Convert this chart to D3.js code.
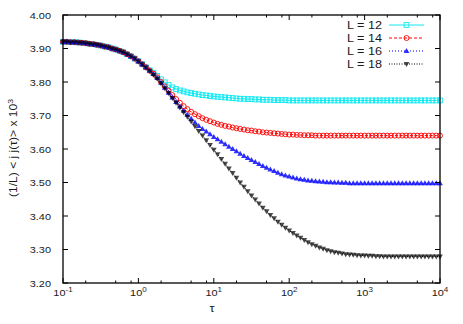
<!DOCTYPE html>
<html lang="en">
<head>
<meta charset="utf-8">
<title>Current vs tau</title>
<script src="https://cdn.jsdelivr.net/npm/d3@7"></script>
<style>
  body { margin: 0; background: #fff; }
  svg text { font-family: "Liberation Sans", Arial, Helvetica, sans-serif; fill: #1a1a1a; }
</style>
</head>
<body>
<script>
// log10(tau) from -1 to 4 in steps of 0.05 (101 samples per curve)
var tauExp = d3.range(0, 101).map(function(i){ return -1 + i * 0.05; });

// readings of (1/L) <j j(tau)> x 10^3 for each L, one row per half decade
var L12 = [
  3.920,3.920,3.919,3.919,3.918,3.917,3.916,3.914,3.913,3.911,
  3.909,3.906,3.904,3.900,3.897,3.893,3.889,3.883,3.877,3.870,
  3.862,3.853,3.844,3.835,3.827,3.818,3.808,3.799,3.791,3.784,
  3.779,3.775,3.772,3.769,3.767,3.765,3.763,3.761,3.760,3.758,
  3.757,3.756,3.755,3.754,3.753,3.752,3.751,3.750,3.750,3.749,
  3.749,3.748,3.748,3.747,3.747,3.747,3.746,3.746,3.746,3.746,
  3.745,3.745,3.745,3.745,3.745,3.745,3.745,3.745,3.745,3.745,
  3.745,3.745,3.745,3.745,3.745,3.745,3.745,3.745,3.745,3.745,
  3.745,3.745,3.745,3.745,3.745,3.745,3.745,3.745,3.745,3.745,
  3.745,3.745,3.745,3.745,3.745,3.745,3.745,3.745,3.745,3.745,
  3.745
];
var L14 = [
  3.920,3.920,3.919,3.919,3.918,3.917,3.916,3.914,3.913,3.911,
  3.909,3.906,3.904,3.900,3.897,3.893,3.889,3.883,3.877,3.870,
  3.862,3.853,3.844,3.834,3.825,3.814,3.800,3.787,3.774,3.761,
  3.749,3.738,3.728,3.719,3.711,3.704,3.698,3.692,3.687,3.683,
  3.679,3.675,3.672,3.669,3.667,3.664,3.662,3.660,3.658,3.656,
  3.655,3.653,3.652,3.650,3.649,3.648,3.647,3.646,3.645,3.644,
  3.643,3.643,3.642,3.642,3.641,3.641,3.641,3.640,3.640,3.640,
  3.640,3.640,3.640,3.640,3.640,3.640,3.640,3.640,3.640,3.640,
  3.640,3.640,3.640,3.640,3.640,3.640,3.640,3.640,3.640,3.640,
  3.640,3.640,3.640,3.640,3.640,3.640,3.640,3.640,3.640,3.640,
  3.640
];
var L16 = [
  3.920,3.920,3.919,3.919,3.918,3.917,3.916,3.914,3.913,3.911,
  3.909,3.906,3.904,3.900,3.897,3.893,3.889,3.883,3.877,3.870,
  3.862,3.853,3.844,3.834,3.824,3.812,3.798,3.783,3.768,3.754,
  3.740,3.727,3.714,3.702,3.690,3.679,3.669,3.660,3.652,3.644,
  3.636,3.629,3.622,3.614,3.607,3.600,3.593,3.586,3.579,3.573,
  3.567,3.561,3.555,3.549,3.544,3.539,3.534,3.529,3.525,3.521,
  3.518,3.515,3.512,3.510,3.508,3.506,3.505,3.504,3.503,3.502,
  3.501,3.501,3.500,3.500,3.499,3.499,3.498,3.498,3.498,3.498,
  3.498,3.498,3.498,3.498,3.498,3.498,3.498,3.498,3.498,3.498,
  3.498,3.498,3.498,3.498,3.498,3.498,3.498,3.498,3.498,3.498,
  3.498
];
var L18 = [
  3.920,3.920,3.919,3.919,3.918,3.917,3.916,3.914,3.913,3.911,
  3.909,3.906,3.904,3.900,3.897,3.893,3.889,3.883,3.877,3.870,
  3.862,3.853,3.843,3.833,3.822,3.810,3.796,3.781,3.767,3.752,
  3.738,3.724,3.710,3.696,3.682,3.668,3.654,3.640,3.626,3.612,
  3.598,3.584,3.570,3.556,3.542,3.528,3.514,3.500,3.487,3.474,
  3.461,3.449,3.437,3.425,3.414,3.403,3.393,3.383,3.374,3.365,
  3.357,3.349,3.342,3.335,3.328,3.322,3.316,3.311,3.306,3.302,
  3.298,3.295,3.292,3.290,3.288,3.286,3.285,3.284,3.283,3.282,
  3.282,3.281,3.281,3.280,3.280,3.279,3.279,3.279,3.279,3.279,
  3.279,3.279,3.279,3.279,3.279,3.279,3.279,3.279,3.279,3.279,
  3.279
];

var seriesNames = ["L = 12", "L = 14", "L = 16", "L = 18"];
var yTicks = [3.2, 3.3, 3.4, 3.5, 3.6, 3.7, 3.8, 3.9, 4.0];
var xTickExps = [-1, 0, 1, 2, 3, 4];

var w = 463, h = 324;
var padL = 63, padR = 440, padT = 15, padB = 283;
var sx = 1.15; // glyphs in the reference are a little wide

var svg = d3.select("body").append("svg")
  .attr("width", w).attr("height", h);

var xScale = d3.scaleLog().domain([0.1, 1e4]).range([padL, padR]);
var yScale = d3.scaleLinear().domain([3.2, 4.0]).range([padB, padT]);

//styles per curve
var styles = [
  {color: "#10e8f0", dash: null, marker: "square"},
  {color: "#ff0000", dash: "3,2", marker: "circle"},
  {color: "#0000ff", dash: "1,2", marker: "tri"},
  {color: "#000000", dash: "1,1.5", marker: "trid"}
];
var allSeries = [L12, L14, L16, L18];

function drawMarker(g, kind, color, x, y) {
  if (kind == "square") {
    g.append("rect").attr("x", x - 2.4).attr("y", y - 2.4)
      .attr("width", 4.8).attr("height", 4.8)
      .attr("fill", "none").attr("stroke", color).attr("stroke-width", 0.9);
  } else if (kind == "circle") {
    g.append("circle").attr("cx", x).attr("cy", y).attr("r", 2.5)
      .attr("fill", "none").attr("stroke", color).attr("stroke-width", 0.9);
  } else if (kind == "tri") {
    g.append("path").attr("d", "M" + x + "," + (y - 3) + "L" + (x + 2.9) + "," + (y + 2) + "L" + (x - 2.9) + "," + (y + 2) + "Z")
      .attr("fill", color).attr("fill-opacity", 0.8);
  } else {
    g.append("path").attr("d", "M" + x + "," + (y + 3) + "L" + (x + 2.9) + "," + (y - 2) + "L" + (x - 2.9) + "," + (y - 2) + "Z")
      .attr("fill", color).attr("fill-opacity", 0.7);
  }
}

function addText(x, y, str, size, anchor) {
  return svg.append("text")
    .attr("transform", "translate(" + x + "," + y + ") scale(" + sx + ",1)")
    .attr("text-anchor", anchor)
    .style("font-size", size + "px")
    .text(str);
}

//Curves
var plot = svg.append("g");
allSeries.forEach(function(vals, s) {
  var st = styles[s];
  var pts = vals.map(function(v, i){ return [Math.pow(10, tauExp[i]), v]; });
  var line = d3.line().x(function(d){ return xScale(d[0]); }).y(function(d){ return yScale(d[1]); });
  plot.append("path").datum(pts)
    .attr("d", line).attr("fill", "none")
    .attr("stroke", st.color).attr("stroke-width", 1)
    .attr("stroke-dasharray", st.dash);
  var mg = plot.append("g");
  pts.forEach(function(d){
    drawMarker(mg, st.marker, st.color, xScale(d[0]), yScale(d[1]));
  });
});

//Ticks, mirrored on all four sides
var ax = svg.append("g").attr("stroke", "#000").attr("stroke-width", 1);
yTicks.forEach(function(v){
  var y = yScale(v);
  ax.append("line").attr("x1", padL).attr("x2", padL + 5).attr("y1", y).attr("y2", y);
  ax.append("line").attr("x1", padR).attr("x2", padR - 5).attr("y1", y).attr("y2", y);
  addText(51, y + 3.5, v.toFixed(2), 9.5, "end");
});
xTickExps.forEach(function(e, k){
  var x = xScale(Math.pow(10, e));
  ax.append("line").attr("x1", x).attr("x2", x).attr("y1", padB).attr("y2", padB - 5);
  ax.append("line").attr("x1", x).attr("x2", x).attr("y1", padT).attr("y2", padT + 5);
  var t = addText(x, 296, "", 9.5, "middle");
  t.append("tspan").text("10");
  t.append("tspan").attr("dy", -4.5).style("font-size", "7px").text(e);
  if (k < xTickExps.length - 1) {
    [2, 5, 8].forEach(function(m){
      var xm = xScale(m * Math.pow(10, e));
      ax.append("line").attr("x1", xm).attr("x2", xm).attr("y1", padB).attr("y2", padB - 2.5);
      ax.append("line").attr("x1", xm).attr("x2", xm).attr("y1", padT).attr("y2", padT + 2.5);
    });
  }
});

//Frame
svg.append("rect")
  .attr("x", padL).attr("y", padT)
  .attr("width", padR - padL).attr("height", padB - padT)
  .attr("fill", "none").attr("stroke", "#000").attr("stroke-width", 1.3);

//Axis titles
addText(212, 312, "\u03c4", 11, "middle");
var yl = svg.append("text")
  .attr("transform", "translate(17,148) rotate(-90) scale(1.15,1)")
  .attr("text-anchor", "middle")
  .style("font-size", "10.5px");
yl.append("tspan").text("(1/L) < j j(\u03c4)> x 10");
yl.append("tspan").attr("dy", -4.5).style("font-size", "7.5px").text("3");

//Legend
var legY = [25, 38, 51, 64];
seriesNames.forEach(function(name, s){
  var st = styles[s];
  var y = legY[s];
  addText(382, y + 4, name, 11, "end");
  svg.append("line").attr("x1", 389).attr("x2", 424).attr("y1", y).attr("y2", y)
    .attr("stroke", st.color).attr("stroke-width", 1)
    .attr("stroke-dasharray", st.dash);
  drawMarker(svg.append("g"), st.marker, st.color, 406.5, y);
});
</script>
</body>
</html>
